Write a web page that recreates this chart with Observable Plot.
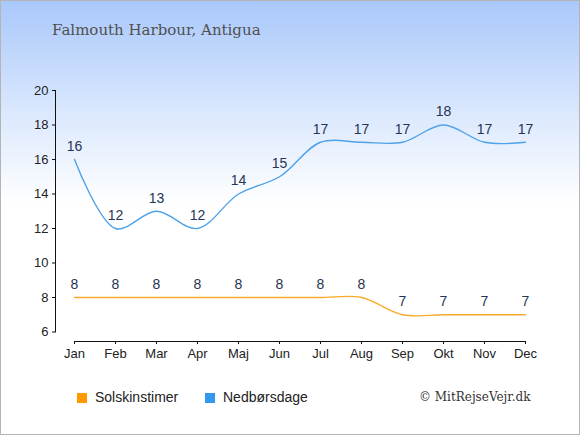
<!DOCTYPE html>
<html>
<head>
<meta charset="utf-8">
<script src="https://cdn.jsdelivr.net/npm/d3@7"></script>
<script src="https://cdn.jsdelivr.net/npm/@observablehq/plot@0.6"></script>
<style>
  html, body { margin: 0; padding: 0; }
  #chart {
    position: relative; width: 580px; height: 435px; box-sizing: border-box;
    border: 1px solid #b4b4b4;
    background: linear-gradient(to bottom, #a9c8fb 0%, #d9e7fd 25%, #ffffff 47%, #ffffff 100%);
    overflow: hidden;
  }
  #title {
    position: absolute; left: 51px; top: 20px;
    font-family: "DejaVu Serif", serif; font-size: 15px; color: #505050;
  }
  #plot { position: absolute; left: -1px; top: -1px; width: 580px; }
  .leg { position: absolute; top: 388px; font-family: "Liberation Sans", Arial, sans-serif; font-size: 14px; color: #222; }
  .sw { display: inline-block; width: 10px; height: 10px; margin-right: 8px; vertical-align: -1px; }
  #copy { position: absolute; left: 418px; top: 389px; font-family: "DejaVu Serif", serif; font-size: 12px; color: #333; }
</style>
</head>
<body>
<div id="chart">
  <div id="plot"></div>
  <div id="title"></div>
  <div class="leg" id="leg1" style="left:76px"></div>
  <div class="leg" id="leg2" style="left:204px"></div>
  <div id="copy">© MitRejseVejr.dk</div>
</div>
<script>
const title = "Falmouth Harbour, Antigua";
const months = ["Jan","Feb","Mar","Apr","Maj","Jun","Jul","Aug","Sep","Okt","Nov","Dec"];
const sunHours = [8,8,8,8,8,8,8,8,7,7,7,7];
const rainDays = [16,12,13,12,14,15,17,17,17,18,17,17];
const yTicks = [6,8,10,12,14,16,18,20];
const seriesNames = ["Solskinstimer","Nedbørsdage"];
const seriesColors = ["#fbab2c","#4ea2ea"];
const legendColors = ["#ff9900","#3399ee"];

document.getElementById("title").textContent = title;
["leg1","leg2"].forEach((id, i) => {
  const el = document.getElementById(id);
  el.innerHTML = `<span class="sw" style="background:${legendColors[i]}"></span>${seriesNames[i]}`;
});

const sun = months.map((m, i) => ({month: m, value: sunHours[i]}));
const rain = months.map((m, i) => ({month: m, value: rainDays[i]}));

const plot = Plot.plot({
  width: 580,
  height: 370,
  marginTop: 90,
  marginBottom: 29,
  marginLeft: 55,
  marginRight: 40,
  style: {background: "transparent", fontFamily: "'Liberation Sans', Arial, sans-serif", fontSize: "13px", color: "#222"},
  x: {type: "point", domain: months, range: [74, 525], padding: 0},
  y: {domain: [6, 20], range: [331.5, 90]},
  marks: [
    Plot.frame({anchor: "left", insetBottom: 9.5, stroke: "#111"}),
    Plot.frame({anchor: "bottom", insetLeft: 19, insetRight: 15, stroke: "#111"}),
    Plot.axisY({ticks: yTicks, tickSize: 3, tickPadding: 4, label: null, fontSize: 13, stroke: "#111"}),
    Plot.axisX({tickSize: 3, tickPadding: 4, label: null, fontSize: 13, stroke: "#111"}),
    Plot.line(sun, {x: "month", y: "value", stroke: seriesColors[0], strokeWidth: 1.4, curve: "catmull-rom"}),
    Plot.line(rain, {x: "month", y: "value", stroke: seriesColors[1], strokeWidth: 1.4, curve: "catmull-rom"}),
    Plot.text(sun, {x: "month", y: "value", text: "value", dy: -13, fill: "#263554", fontSize: 14}),
    Plot.text(rain, {x: "month", y: "value", text: "value", dy: -13, fill: "#263554", fontSize: 14})
  ]
});
document.getElementById("plot").appendChild(plot);
</script>
</body>
</html>
